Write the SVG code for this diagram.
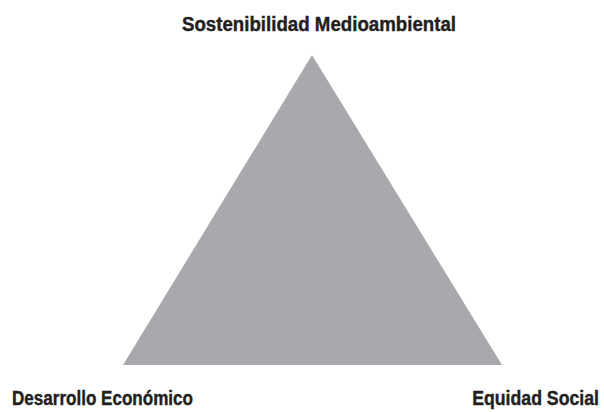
<svg xmlns="http://www.w3.org/2000/svg" width="604" height="412" viewBox="0 0 604 412">
<style>
.lbl{font-family:"Liberation Sans",Arial,sans-serif;font-weight:bold;font-size:19.5px;fill:#231f20;stroke:#231f20;stroke-width:0.4}
</style>
<rect width="604" height="412" fill="#ffffff"/>
<g id="triangle">
<polygon points="312,55 123,365 502,365" fill="#a7a9ac"/>
</g>
<g id="connectors"></g>
<g id="top">
<text class="lbl" x="319" y="31" text-anchor="middle" textLength="274" lengthAdjust="spacingAndGlyphs">Sostenibilidad Medioambiental</text>
</g>
<g id="left">
<text class="lbl" x="12" y="405" textLength="181" lengthAdjust="spacingAndGlyphs">Desarrollo Económico</text>
</g>
<g id="right">
<text class="lbl" transform="translate(599,405) scale(0.908,1)" text-anchor="end">Equidad Social</text>
</g>
</svg>
